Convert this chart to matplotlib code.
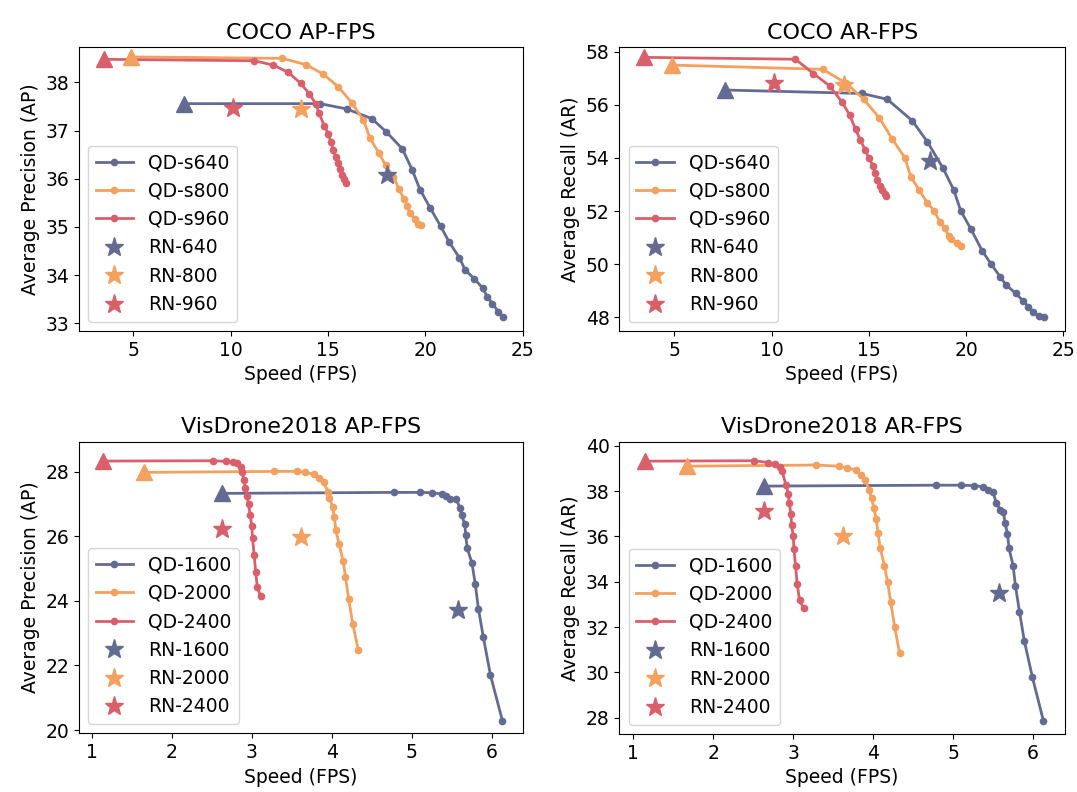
import matplotlib
matplotlib.use("Agg")
import matplotlib.pyplot as plt

# colours
c_blue = '#636b92'
c_orange = '#f4a05f'
c_red = '#d9606a'
colors = [c_blue, c_orange, c_red]

# ---------------- COCO AP-FPS ----------------
coco_ap_s640_x = [7.62, 14.59, 15.96, 17.24, 17.98, 18.82, 19.33, 19.73, 20.24, 20.79, 21.23, 21.75, 22.04, 22.52, 22.95, 23.18, 23.44, 23.75, 23.97]
coco_ap_s640_y = [37.56, 37.56, 37.45, 37.25, 36.98, 36.62, 36.18, 35.77, 35.40, 35.01, 34.68, 34.36, 34.11, 33.92, 33.73, 33.55, 33.41, 33.24, 33.12]
coco_ap_s800_x = [4.86, 12.65, 13.87, 14.76, 15.53, 16.22, 16.82, 17.16, 17.62, 17.96, 18.36, 18.65, 18.90, 19.08, 19.21, 19.47, 19.64, 19.76]
coco_ap_s800_y = [38.53, 38.50, 38.37, 38.17, 37.91, 37.58, 37.22, 36.84, 36.53, 36.28, 36.04, 35.78, 35.59, 35.44, 35.28, 35.16, 35.07, 35.04]
coco_ap_s960_x = [3.49, 11.22, 12.19, 12.96, 13.60, 14.03, 14.37, 14.54, 14.81, 15.02, 15.14, 15.27, 15.39, 15.50, 15.62, 15.74, 15.84, 15.91]
coco_ap_s960_y = [38.48, 38.45, 38.36, 38.21, 37.98, 37.77, 37.56, 37.36, 37.10, 36.93, 36.77, 36.60, 36.46, 36.32, 36.20, 36.08, 35.99, 35.92]
coco_ap_rn_x = [18.05, 13.60, 10.14]
coco_ap_rn_y = [36.08, 37.44, 37.46]

# ---------------- COCO AR-FPS ----------------
coco_ar_s640_x = [7.61, 14.65, 15.95, 17.24, 18.01, 18.82, 19.37, 19.73, 20.25, 20.83, 21.28, 21.77, 22.05, 22.55, 22.94, 23.20, 23.46, 23.75, 24.01]
coco_ar_s640_y = [56.56, 56.43, 56.21, 55.40, 54.61, 53.61, 52.79, 52.00, 51.32, 50.50, 50.01, 49.51, 49.22, 48.90, 48.61, 48.40, 48.21, 48.03, 48.00]
coco_ar_s800_x = [4.86, 12.64, 13.84, 14.74, 15.53, 16.21, 16.85, 17.16, 17.59, 18.00, 18.36, 18.65, 18.91, 19.11, 19.25, 19.51, 19.73]
coco_ar_s800_y = [57.50, 57.34, 56.81, 56.21, 55.52, 54.71, 54.01, 53.29, 52.79, 52.32, 52.01, 51.60, 51.35, 51.06, 50.94, 50.81, 50.70]
coco_ar_s960_x = [3.45, 11.23, 12.15, 12.98, 13.64, 14.01, 14.32, 14.56, 14.82, 15.01, 15.22, 15.30, 15.44, 15.59, 15.70, 15.82, 15.90]
coco_ar_s960_y = [57.79, 57.72, 57.18, 56.72, 56.09, 55.62, 55.08, 54.68, 54.30, 53.98, 53.71, 53.42, 53.17, 52.96, 52.79, 52.64, 52.58]
coco_ar_rn_x = [18.14, 13.73, 10.12]
coco_ar_rn_y = [53.88, 56.75, 56.81]

# ---------------- VisDrone2018 AP-FPS ----------------
vd_ap_1600_x = [2.63, 4.77, 5.10, 5.25, 5.37, 5.43, 5.48, 5.55, 5.60, 5.62, 5.66, 5.67, 5.69, 5.75, 5.79, 5.83, 5.89, 5.98, 6.13]
vd_ap_1600_y = [27.33, 27.36, 27.36, 27.35, 27.31, 27.25, 27.17, 27.15, 26.89, 26.66, 26.37, 26.04, 25.63, 25.16, 24.52, 23.75, 22.89, 21.70, 20.28]
vd_ap_2000_x = [1.66, 3.28, 3.56, 3.67, 3.78, 3.84, 3.90, 3.95, 3.97, 4.01, 4.03, 4.05, 4.09, 4.14, 4.17, 4.21, 4.26, 4.33]
vd_ap_2000_y = [27.98, 28.01, 28.01, 27.98, 27.92, 27.81, 27.67, 27.38, 27.20, 26.90, 26.61, 26.19, 25.76, 25.24, 24.75, 24.05, 23.30, 22.48]
vd_ap_2400_x = [1.14, 2.51, 2.68, 2.76, 2.82, 2.86, 2.88, 2.90, 2.92, 2.94, 2.96, 2.98, 3.00, 3.01, 3.03, 3.05, 3.07, 3.11]
vd_ap_2400_y = [28.33, 28.34, 28.32, 28.29, 28.26, 28.15, 28.00, 27.74, 27.51, 27.25, 27.00, 26.66, 26.33, 25.94, 25.42, 24.88, 24.42, 24.15]
vd_ap_rn_x = [5.57, 3.61, 2.63]
vd_ap_rn_y = [23.72, 25.97, 26.23]

# ---------------- VisDrone2018 AR-FPS ----------------
vd_ar_1600_x = [2.63, 4.78, 5.10, 5.26, 5.38, 5.44, 5.50, 5.54, 5.59, 5.63, 5.65, 5.68, 5.70, 5.75, 5.78, 5.83, 5.89, 5.99, 6.13]
vd_ar_1600_y = [38.22, 38.26, 38.26, 38.24, 38.19, 38.07, 37.94, 37.49, 37.16, 37.06, 36.60, 36.10, 35.47, 34.71, 33.81, 32.68, 31.40, 29.81, 27.85]
vd_ar_2000_x = [1.67, 3.28, 3.57, 3.67, 3.78, 3.85, 3.90, 3.95, 3.98, 4.01, 4.04, 4.06, 4.09, 4.14, 4.18, 4.22, 4.27, 4.33]
vd_ar_2000_y = [39.10, 39.15, 39.10, 39.03, 38.93, 38.71, 38.49, 38.04, 37.71, 37.24, 36.75, 36.13, 35.47, 34.71, 34.00, 33.09, 31.99, 30.87]
vd_ar_2400_x = [1.15, 2.51, 2.69, 2.77, 2.83, 2.86, 2.91, 2.94, 2.95, 2.97, 2.98, 3.00, 3.01, 3.03, 3.05, 3.08, 3.13]
vd_ar_2400_y = [39.32, 39.34, 39.26, 39.18, 39.07, 38.90, 38.26, 37.87, 37.49, 37.01, 36.50, 36.03, 35.43, 34.69, 33.88, 33.19, 32.82]
vd_ar_rn_x = [5.58, 3.62, 2.63]
vd_ar_rn_y = [33.49, 36.01, 37.12]

coco_qd_labels = ['QD-s640', 'QD-s800', 'QD-s960']
coco_rn_labels = ['RN-640', 'RN-800', 'RN-960']
vd_qd_labels = ['QD-1600', 'QD-2000', 'QD-2400']
vd_rn_labels = ['RN-1600', 'RN-2000', 'RN-2400']

panels = [
    ('COCO AP-FPS', 'Average Precision (AP)',
     [(coco_ap_s640_x, coco_ap_s640_y), (coco_ap_s800_x, coco_ap_s800_y), (coco_ap_s960_x, coco_ap_s960_y)],
     coco_ap_rn_x, coco_ap_rn_y, coco_qd_labels, coco_rn_labels),
    ('COCO AR-FPS', 'Average Recall (AR)',
     [(coco_ar_s640_x, coco_ar_s640_y), (coco_ar_s800_x, coco_ar_s800_y), (coco_ar_s960_x, coco_ar_s960_y)],
     coco_ar_rn_x, coco_ar_rn_y, coco_qd_labels, coco_rn_labels),
    ('VisDrone2018 AP-FPS', 'Average Precision (AP)',
     [(vd_ap_1600_x, vd_ap_1600_y), (vd_ap_2000_x, vd_ap_2000_y), (vd_ap_2400_x, vd_ap_2400_y)],
     vd_ap_rn_x, vd_ap_rn_y, vd_qd_labels, vd_rn_labels),
    ('VisDrone2018 AR-FPS', 'Average Recall (AR)',
     [(vd_ar_1600_x, vd_ar_1600_y), (vd_ar_2000_x, vd_ar_2000_y), (vd_ar_2400_x, vd_ar_2400_y)],
     vd_ar_rn_x, vd_ar_rn_y, vd_qd_labels, vd_rn_labels),
]

# axes rectangles in figure fraction (left, bottom, width, height)
rects = [
    (0.0731, 0.5821, 0.4128, 0.3582),
    (0.5750, 0.5821, 0.4139, 0.3582),
    (0.0731, 0.0741, 0.4128, 0.3682),
    (0.5750, 0.0733, 0.4139, 0.3690),
]
xlims = [(2.2, 25.03), (2.17, 25.09), (0.84, 6.39), (0.825, 6.40)]
ylims = [(32.84, 38.73), (47.48, 58.17), (19.90, 28.93), (27.28, 40.18)]

fs = 13.5
fig = plt.figure(figsize=(10.77, 7.92), dpi=100)

for rect, xl, yl, (title, ylabel, curves, rn_x, rn_y, qd_labels, rn_labels) in zip(rects, xlims, ylims, panels):
    ax = fig.add_axes(rect)
    for (xs, ys), col, lab in zip(curves, colors, qd_labels):
        ax.plot(xs, ys, '-o', color=col, lw=2, markersize=4.5, label=lab)
    for (xs, ys), col in zip(curves, colors):
        ax.plot(xs[0], ys[0], '^', color=col, markersize=11)
    for x, y, col, lab in zip(rn_x, rn_y, colors, rn_labels):
        ax.plot(x, y, '*', color=col, markersize=14, linestyle='None', label=lab)
    ax.set_xlim(*xl)
    ax.set_ylim(*yl)
    ax.set_title(title, fontsize=16)
    ax.set_xlabel('Speed (FPS)', fontsize=fs)
    ax.set_ylabel(ylabel, fontsize=fs)
    ax.tick_params(labelsize=fs)
    ax.legend(loc='lower left', fontsize=fs)

fig.savefig('out.png', dpi=100)
